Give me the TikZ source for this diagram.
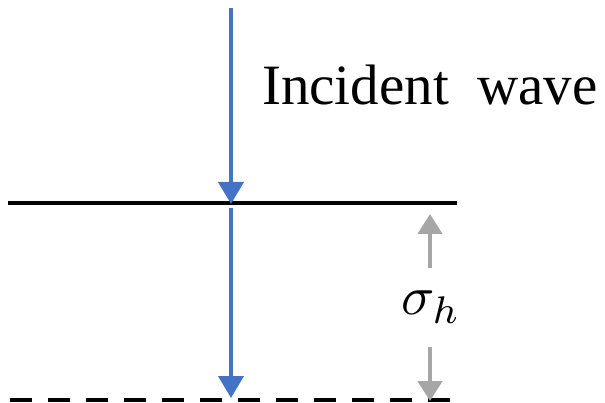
\documentclass[tikz,border=0pt]{standalone}
\usepackage{fontspec}
\setmainfont{Liberation Serif}
\usetikzlibrary{arrows.meta}
\definecolor{waveblue}{HTML}{4472C4}
\definecolor{dimgrey}{HTML}{A6A6A6}
\begin{document}
\begin{tikzpicture}[x=1pt,y=-1pt,
  bluearrow/.style={draw=waveblue,line width=4pt,-{Triangle[length=22pt,width=25pt]}},
  greyarrow/.style={draw=dimgrey,line width=4.5pt,-{Triangle[length=20pt,width=24pt]}},
  surface/.style={draw=black,line width=4.5pt},
  lowerline/.style={draw=black,line width=4.5pt,dash pattern=on 22pt off 16pt}]
\useasboundingbox (0,0) rectangle (605,403);
% lines
\coordinate (sL) at (8,203);
\coordinate (sR) at (457,203);
\coordinate (dL) at (10,400);
\coordinate (dR) at (457,400);
\draw[surface] (sL) -- (sR);
\draw[lowerline] (dL) -- (dR);
% blue arrows
\coordinate (b0) at (231,8);
\coordinate (b1) at (231,204);
\coordinate (b2) at (231,208);
\coordinate (b3) at (231,398);
\draw[bluearrow] (b0) -- (b1);
\draw[bluearrow] (b2) -- (b3);
% incident label
\node[anchor=base west,inner sep=0pt,font=\fontsize{57}{60}\selectfont] (lbl) at (262,105) {Incident\ \ wave};
% sigma
\node[anchor=base,inner sep=0pt] (sig) at (431,315) {\scalebox{5.5}{$\sigma_h$}};
\coordinate (g0) at (430,268);
\coordinate (g1) at (430,214);
\coordinate (g2) at (430,347);
\coordinate (g3) at (430,401);
\draw[greyarrow] (g0) -- (g1);
\draw[greyarrow] (g2) -- (g3);
\end{tikzpicture}
\end{document}
